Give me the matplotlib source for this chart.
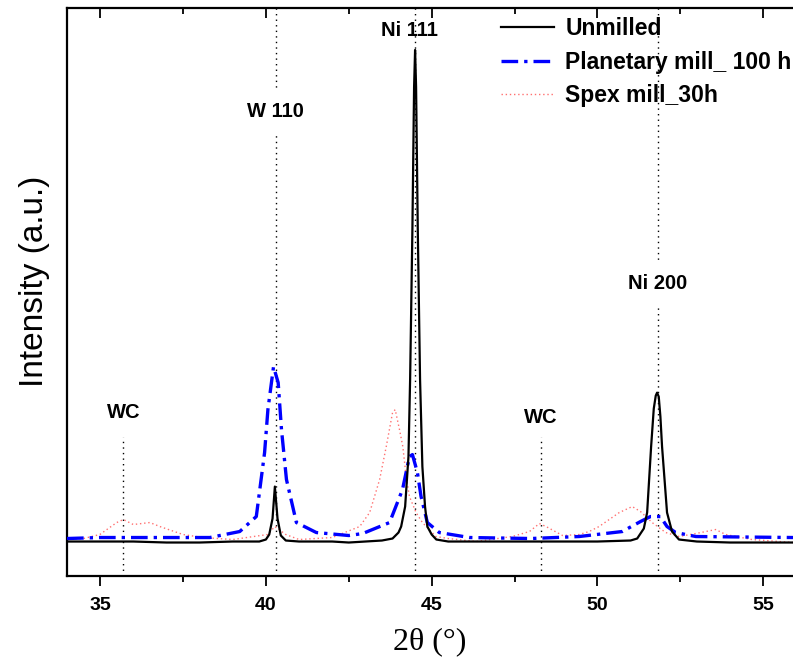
import matplotlib
matplotlib.use('Agg')
import matplotlib.pyplot as plt
from matplotlib.ticker import MultipleLocator

# 2theta (deg) and intensity (a.u.)
unmilled_x = [34.0, 35.0, 36.0, 37.0, 38.0, 39.0, 39.8, 40.0, 40.1, 40.2, 40.27, 40.35, 40.45,
              40.6, 41.0, 42.0, 42.5, 43.0, 43.5, 43.82, 44.0, 44.08, 44.2, 44.3, 44.35, 44.42,
              44.47, 44.5, 44.53, 44.58, 44.65, 44.72, 44.8, 44.87, 45.0, 45.14, 45.5, 46.5,
              48.0, 50.0, 51.0, 51.2, 51.4, 51.5, 51.62, 51.7, 51.76, 51.8, 51.85, 51.9, 51.95,
              52.1, 52.25, 52.46, 53.0, 54.0, 55.9]
unmilled_y = [35, 35, 35, 34, 34, 35, 35, 37, 42, 58, 90, 58, 41,
              36, 35, 35, 34, 35, 36, 38, 44, 50, 70, 120, 197, 350,
              490, 527, 490, 350, 197, 110, 70, 50, 42, 37, 35, 35,
              35, 35, 36, 38, 48, 64, 130, 168, 181, 184, 180, 160, 130,
              64, 45, 37, 35, 34, 34]

planetary_x = [34.0, 35.0, 36.5, 38.31, 39.21, 39.71, 39.96, 40.06, 40.23, 40.37, 40.47, 40.62,
               40.92, 41.52, 42.5, 42.92, 43.73, 44.12, 44.33, 44.42, 44.57, 44.68, 44.87,
               45.23, 46.14, 48.0, 49.45, 50.75, 51.3, 51.6, 51.9, 52.1, 52.36, 52.97, 55.9]
planetary_y = [38, 39, 39, 39, 45, 60, 124, 167, 210, 194, 147, 97,
               54, 44, 41, 43, 54, 87, 120, 122, 104, 80, 54,
               44, 39, 38, 40, 45, 55, 60, 60, 50, 44, 40, 39]

spex_x = [34.0, 34.5, 34.99, 35.5, 35.7, 36.0, 36.5, 36.8, 37.5, 38.1, 39.0, 40.05, 40.27,
          40.6, 41.0, 42.0, 42.83, 43.13, 43.43, 43.63, 43.82, 43.9, 44.03, 44.13, 44.23,
          44.33, 44.53, 44.72, 45.13, 45.5, 46.34, 47.43, 47.95, 48.25, 48.45, 48.95, 49.45,
          49.75, 50.05, 50.66, 51.05, 51.3, 51.65, 52.06, 52.46, 52.97, 53.57, 53.87, 54.66,
          55.9]
spex_y = [37, 38, 42, 54, 57, 52, 54, 50, 42, 39, 37, 42, 50,
          42, 37, 39, 50, 64, 97, 130, 164, 167, 147, 130, 100,
          80, 64, 54, 40, 38, 35, 40, 45, 53, 50, 41, 42,
          45, 50, 64, 70, 65, 54, 44, 40, 43, 47, 42, 37,
          34]

# reference lines and labels
ref_pos = [35.7, 40.3, 44.5, 48.3, 51.82]
ref_top = [0.245, 1.0, 1.0, 0.245, 1.0]
label_text = ['WC', 'W 110', 'Ni 111', 'WC', 'Ni 200']
label_x = [35.7, 40.3, 44.33, 48.3, 51.82]
label_y = [164, 465, 546, 159, 293]
label_box = [False, True, False, False, True]

fig = plt.figure(figsize=(7.93, 6.68), dpi=100)
ax = fig.add_axes([0.0845, 0.137, 0.9155, 0.851])

for x, top in zip(ref_pos, ref_top):
    ax.axvline(x, ymin=0, ymax=top, color='black', linestyle=(0, (1, 3)), lw=1.0, zorder=1)

ax.plot(unmilled_x, unmilled_y, color='black', lw=1.6, label='Unmilled', zorder=4)
ax.plot(planetary_x, planetary_y, color='#0000ff', lw=2.4, dashes=(5, 1.8, 1, 1.8),
        label='Planetary mill_ 100 h', zorder=3)
ax.plot(spex_x, spex_y, color='#ff7070', lw=1.0, linestyle=(0, (1, 2)),
        label='Spex mill_30h', zorder=2)

for t, x, y, box in zip(label_text, label_x, label_y, label_box):
    kw = {}
    if box:
        kw['bbox'] = dict(boxstyle='square,pad=0.6', fc='white', ec='none')
    ax.text(x, y, t, ha='center', va='center', fontsize=14.5, fontweight='bold',
            family='Liberation Sans', zorder=5, **kw)

ax.set_xlim(34, 55.9)
ax.set_ylim(0, 569)
ax.set_yticks([])
ax.xaxis.set_major_locator(MultipleLocator(5))
ax.xaxis.set_minor_locator(MultipleLocator(2.5))
ax.tick_params(axis='x', which='both', direction='out', top=True, width=1.3)
ax.tick_params(axis='x', which='major', length=7, pad=8)
ax.tick_params(axis='x', which='minor', length=4.5)
ax.tick_params(axis='x', which='both', top=True, labeltop=False)
for lab in ax.get_xticklabels():
    lab.set_fontsize(14)
    lab.set_fontweight('bold')
    lab.set_family('Liberation Sans')
# top ticks point inward
for t in ax.xaxis.get_major_ticks() + ax.xaxis.get_minor_ticks():
    t.tick2line.set_marker(3)

for s in ['left', 'bottom', 'top']:
    ax.spines[s].set_linewidth(1.6)
ax.spines['right'].set_visible(False)

ax.set_xlabel('2θ (°)', fontsize=23, family='Liberation Serif', labelpad=9)
ax.set_ylabel('Intensity (a.u.)', fontsize=24, family='Liberation Sans')
ax.yaxis.set_label_coords(-0.024, 0.52)

leg = ax.legend(loc='upper right', bbox_to_anchor=(1.02, 1.012), frameon=False,
                prop={'family': 'Liberation Sans', 'weight': 'bold', 'size': 16.5},
                handlelength=2.3, labelspacing=0.45, handletextpad=0.5, borderaxespad=0.3)

fig.savefig('out.png', dpi=100)
